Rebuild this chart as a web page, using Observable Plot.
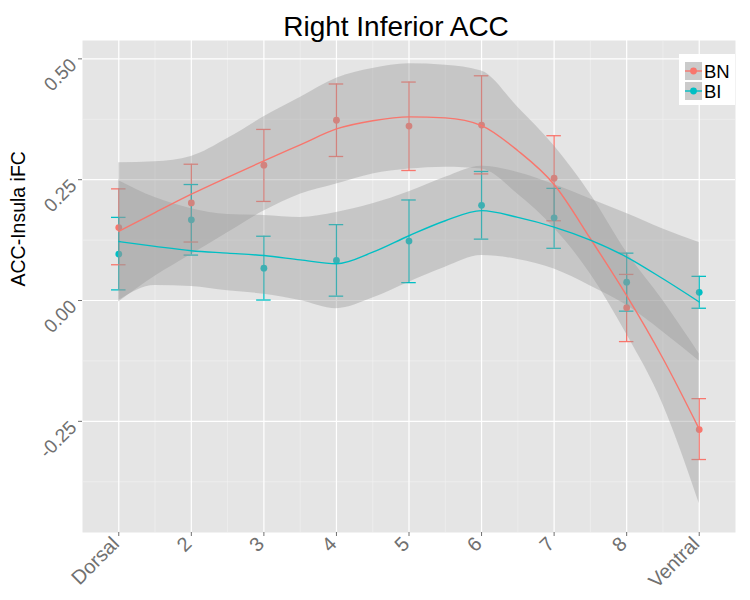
<!DOCTYPE html>
<html><head><meta charset="utf-8">
<script src="https://cdn.jsdelivr.net/npm/d3@7"></script>
<script src="https://cdn.jsdelivr.net/npm/@observablehq/plot@0.6"></script>
<style>
body{margin:0;background:#fff;font-family:"Liberation Sans",Arial,sans-serif;}
#chart{position:relative;width:750px;height:600px;}
</style></head><body><div id="chart"></div>
<script>
// ---- data ----
const title = "Right Inferior ACC";
const yLabel = "ACC-Insula iFC";
const positions = [1, 2, 3, 4, 5, 6, 7, 8, 9];
const tickLabels = ["Dorsal", "2", "3", "4", "5", "6", "7", "8", "Ventral"];
const yTicks = [-0.25, 0, 0.25, 0.5];
const yMinor = [-0.375, -0.125, 0.125, 0.375];
const xMinor = [1.5, 2.5, 3.5, 4.5, 5.5, 6.5, 7.5, 8.5];
const groups = ["BN", "BI"];
const colors = ["#F8766D", "#00BFC4"];

const bnMean = [0.151, 0.202, 0.280, 0.373, 0.361, 0.363, 0.253, -0.015, -0.267];
const bnLo   = [0.074, 0.121, 0.205, 0.298, 0.269, 0.262, 0.165, -0.085, -0.329];
const bnHi   = [0.231, 0.282, 0.354, 0.448, 0.452, 0.465, 0.341, 0.054, -0.203];
const biMean = [0.096, 0.167, 0.067, 0.083, 0.123, 0.197, 0.171, 0.038, 0.017];
const biLo   = [0.022, 0.094, 0.001, 0.009, 0.037, 0.127, 0.108, -0.022, -0.016];
const biHi   = [0.172, 0.240, 0.133, 0.157, 0.208, 0.267, 0.232, 0.098, 0.050];

// smooth (loess) fit and confidence band
const fitX    = [1, 1.5, 2, 2.5, 3, 3.5, 4, 4.5, 5, 5.5, 6, 6.5, 7, 7.5, 8, 8.5, 9];
const bnFit   = [0.143, 0.182, 0.220, 0.255, 0.289, 0.322, 0.355, 0.372, 0.380, 0.378, 0.362, 0.310, 0.240, 0.128, 0.010, -0.120, -0.266];
const bnFitHi = [0.285, 0.287, 0.298, 0.335, 0.380, 0.420, 0.460, 0.480, 0.490, 0.487, 0.475, 0.400, 0.320, 0.220, 0.100, 0.000, -0.110];
const bnFitLo = [-0.003, 0.050, 0.095, 0.140, 0.185, 0.220, 0.241, 0.262, 0.272, 0.276, 0.272, 0.220, 0.150, 0.055, -0.070, -0.215, -0.420];
const biFit   = [0.122, 0.112, 0.103, 0.098, 0.093, 0.084, 0.076, 0.100, 0.134, 0.165, 0.186, 0.172, 0.152, 0.125, 0.090, 0.045, -0.003];
const biFitHi = [0.248, 0.213, 0.190, 0.178, 0.176, 0.172, 0.182, 0.200, 0.225, 0.255, 0.278, 0.265, 0.240, 0.210, 0.180, 0.148, 0.120];
const biFitLo = [0.000, 0.031, 0.029, 0.020, 0.013, 0.000, -0.017, 0.005, 0.038, 0.069, 0.093, 0.085, 0.065, 0.030, -0.010, -0.065, -0.125];

// ---- tables ----
const pts = [];
positions.forEach((p, i) => {
  pts.push({g: "BN", x: p, y: bnMean[i], lo: bnLo[i], hi: bnHi[i]});
  pts.push({g: "BI", x: p, y: biMean[i], lo: biLo[i], hi: biHi[i]});
});
const fit = [];
fitX.forEach((x, i) => fit.push({g: "BN", x, y: bnFit[i], lo: bnFitLo[i], hi: bnFitHi[i]}));
fitX.forEach((x, i) => fit.push({g: "BI", x, y: biFit[i], lo: biFitLo[i], hi: biFitHi[i]}));

const capHalf = 0.1; // errorbar width 0.2 (data units)
const axisGrey = "#707070";
const font = "Liberation Sans, Arial, sans-serif";

const plot = Plot.plot({
  width: 750, height: 600,
  marginLeft: 82, marginRight: 15, marginTop: 40, marginBottom: 68,
  style: {fontFamily: font, background: "white"},
  x: {domain: [0.5, 9.5], axis: null},
  y: {domain: [-0.48, 0.538], axis: null},
  color: {domain: groups, range: colors},
  marks: [
    Plot.frame({fill: "#E5E5E5", stroke: "none"}),
    Plot.ruleY(yMinor, {stroke: "#F2F2F2", strokeWidth: 0.6}),
    Plot.ruleX(xMinor, {stroke: "#F2F2F2", strokeWidth: 0.6}),
    Plot.ruleY(yTicks, {stroke: "white", strokeWidth: 1.2}),
    Plot.ruleX(positions, {stroke: "white", strokeWidth: 1.2}),
    // ticks
    Plot.axisX({ticks: positions, tickFormat: () => "", tickSize: 4, stroke: axisGrey, label: null}),
    Plot.axisY({ticks: yTicks, tickFormat: () => "", tickSize: 4, stroke: axisGrey, label: null}),
    // tick labels rotated
    Plot.text(positions, {x: d => d, text: (d, i) => tickLabels[i], frameAnchor: "bottom",
      rotate: -45, textAnchor: "end", lineAnchor: "middle", dy: 8, dx: -3,
      fontSize: 20, fill: axisGrey}),
    Plot.text(yTicks, {y: d => d, text: d => d.toFixed(2), frameAnchor: "left",
      rotate: -45, textAnchor: "end", lineAnchor: "middle", dx: -9, dy: 3,
      fontSize: 19, fill: axisGrey}),
    // points & error bars
    Plot.ruleX(pts, {x: "x", y1: "lo", y2: "hi", stroke: "g", strokeWidth: 1.3}),
    Plot.ruleY(pts, {y: "hi", x1: d => d.x - capHalf, x2: d => d.x + capHalf, stroke: "g", strokeWidth: 1.3}),
    Plot.ruleY(pts, {y: "lo", x1: d => d.x - capHalf, x2: d => d.x + capHalf, stroke: "g", strokeWidth: 1.3}),
    Plot.dot(pts, {x: "x", y: "y", fill: "g", r: 3.4}),
    // smooth bands and lines
    Plot.areaY(fit, {x: "x", y1: "lo", y2: "hi", z: "g", fill: "#999999", fillOpacity: 0.4, curve: "monotone-x"}),
    Plot.line(fit, {x: "x", y: "y", z: "g", stroke: "g", strokeWidth: 1.4, curve: "monotone-x"}),
    // titles
    Plot.text([title], {frameAnchor: "top", dy: -13, dx: -13, fontSize: 28, fill: "black", lineAnchor: "middle"}),
    Plot.text([yLabel], {frameAnchor: "left", rotate: -90, dx: -64, fontSize: 19.5, fill: "black", lineAnchor: "middle"})
  ]
});
document.getElementById("chart").appendChild(plot);

// legend (inside panel, top-right)
const svg = d3.select(plot);
const lg = svg.append("g").attr("font-family", font).attr("text-anchor", "start");
lg.append("rect").attr("x", 679).attr("y", 54).attr("width", 56).attr("height", 51).attr("fill", "white");
groups.forEach((g, i) => {
  const y0 = 62 + i * 20;
  lg.append("rect").attr("x", 685).attr("y", y0).attr("width", 17).attr("height", 18).attr("fill", "#CBCBCB");
  lg.append("line").attr("x1", 685).attr("x2", 702).attr("y1", y0 + 9).attr("y2", y0 + 9)
    .attr("stroke", colors[i]).attr("stroke-width", 1.4);
  lg.append("circle").attr("cx", 693.5).attr("cy", y0 + 9).attr("r", 3.4).attr("fill", colors[i]);
  lg.append("text").attr("x", 704).attr("y", y0 + 16).attr("font-size", 18.5).attr("fill", "black")
    .attr("text-anchor", "start").text(g);
});
</script>
</body></html>
